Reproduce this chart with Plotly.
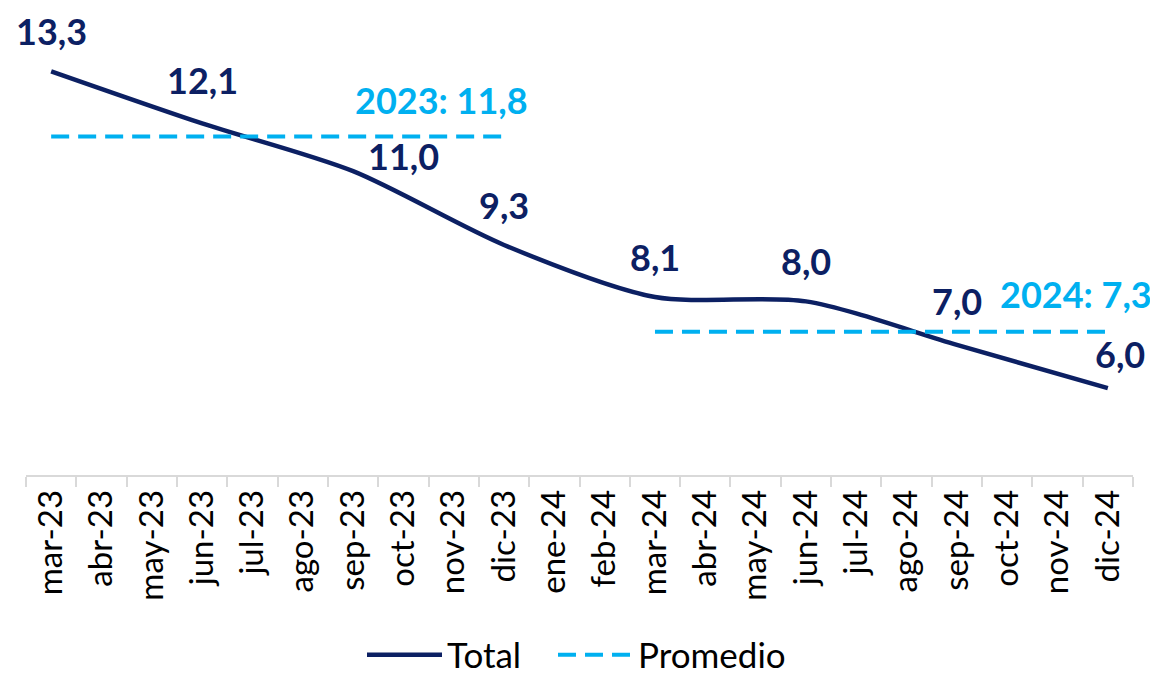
import plotly.graph_objects as go

months = ["mar-23","abr-23","may-23","jun-23","jul-23","ago-23","sep-23","oct-23","nov-23","dic-23",
          "ene-24","feb-24","mar-24","abr-24","may-24","jun-24","jul-24","ago-24","sep-24","oct-24","nov-24","dic-24"]
total_x = ["mar-23","jun-23","sep-23","dic-23","mar-24","jun-24","sep-24","dic-24"]
total_y = [13.3, 12.1, 11.0, 9.3, 8.1, 8.0, 7.0, 6.0]
prom_2023_x = ["mar-23", "dic-23"]
prom_2023_y = [11.8, 11.8]
prom_2024_x = ["mar-24", "dic-24"]
prom_2024_y = [7.3, 7.3]

NAVY = "#0C2063"
CYAN = "#00B0F0"
FONT = "Lato"

fig = go.Figure()
fig.add_trace(go.Scatter(x=total_x, y=total_y, mode="lines", name="Total" + "&nbsp;" * 3,
                         line=dict(color=NAVY, width=4.5, shape="spline", smoothing=0.8)))
fig.add_trace(go.Scatter(x=prom_2023_x, y=prom_2023_y, mode="lines", name="Promedio",
                         line=dict(color=CYAN, width=4, dash="18px,9px"), legendgroup="p"))
fig.add_trace(go.Scatter(x=prom_2024_x, y=prom_2024_y, mode="lines", name="Promedio", showlegend=False,
                         line=dict(color=CYAN, width=4, dash="18px,9px"), legendgroup="p"))

# data labels
for xv, yv in zip(total_x, total_y):
    dx, dy = 0, 40
    if xv == "jun-23":
        dy = 43
    if xv == "sep-23":
        dx, dy = 50, 15
    if xv == "sep-24":
        dy = 44
    if xv == "dic-24":
        dx, dy = 12, 34
    fig.add_annotation(x=xv, y=yv, text=f"{yv:.1f}".replace(".", ","), showarrow=False,
                       xshift=dx, yshift=dy, font=dict(family=FONT, size=36, color=NAVY, weight="bold"))

fig.add_annotation(x=prom_2023_x[1], y=prom_2023_y[1], text=f"2023: {prom_2023_y[1]:.1f}".replace(".", ","),
                   showarrow=False, xshift=-63, yshift=36,
                   font=dict(family=FONT, size=36, color=CYAN, weight="bold"))
fig.add_annotation(x=prom_2024_x[1], y=prom_2024_y[1], text=f"2024: {prom_2024_y[1]:.1f}".replace(".", ","),
                   showarrow=False, xshift=-32, yshift=38,
                   font=dict(family=FONT, size=36, color=CYAN, weight="bold"))

# page body has an 8px margin: figure is offset by (8, 8)
fig.update_layout(
    width=1150, height=669,
    margin=dict(l=18, r=25, t=33, b=202, autoexpand=False),
    paper_bgcolor="white", plot_bgcolor="white",
    font=dict(family=FONT, color="#000000"),
    showlegend=True,
    legend=dict(orientation="h", x=(362 - 8) / 1150, xanchor="left", xref="container",
                y=1 - (655 - 8) / 669, yanchor="middle", yref="container",
                font=dict(family=FONT, size=35, color="#000000"), itemwidth=75,
                borderwidth=0, traceorder="normal"),
)
fig.update_xaxes(type="category", categoryorder="array", categoryarray=months,
                 range=[-0.5, len(months) - 0.5], automargin=False,
                 tickson="boundaries", ticks="outside", ticklen=10, tickcolor="#D9D9D9", tickwidth=1.5,
                 showline=True, linecolor="#D9D9D9", linewidth=1.5, showgrid=False,
                 tickangle=-90, tickfont=dict(family=FONT, size=33, color="#000000"))
fig.update_yaxes(range=[4, 14], visible=False, showgrid=False, zeroline=False)

fig.write_html("out.html")
